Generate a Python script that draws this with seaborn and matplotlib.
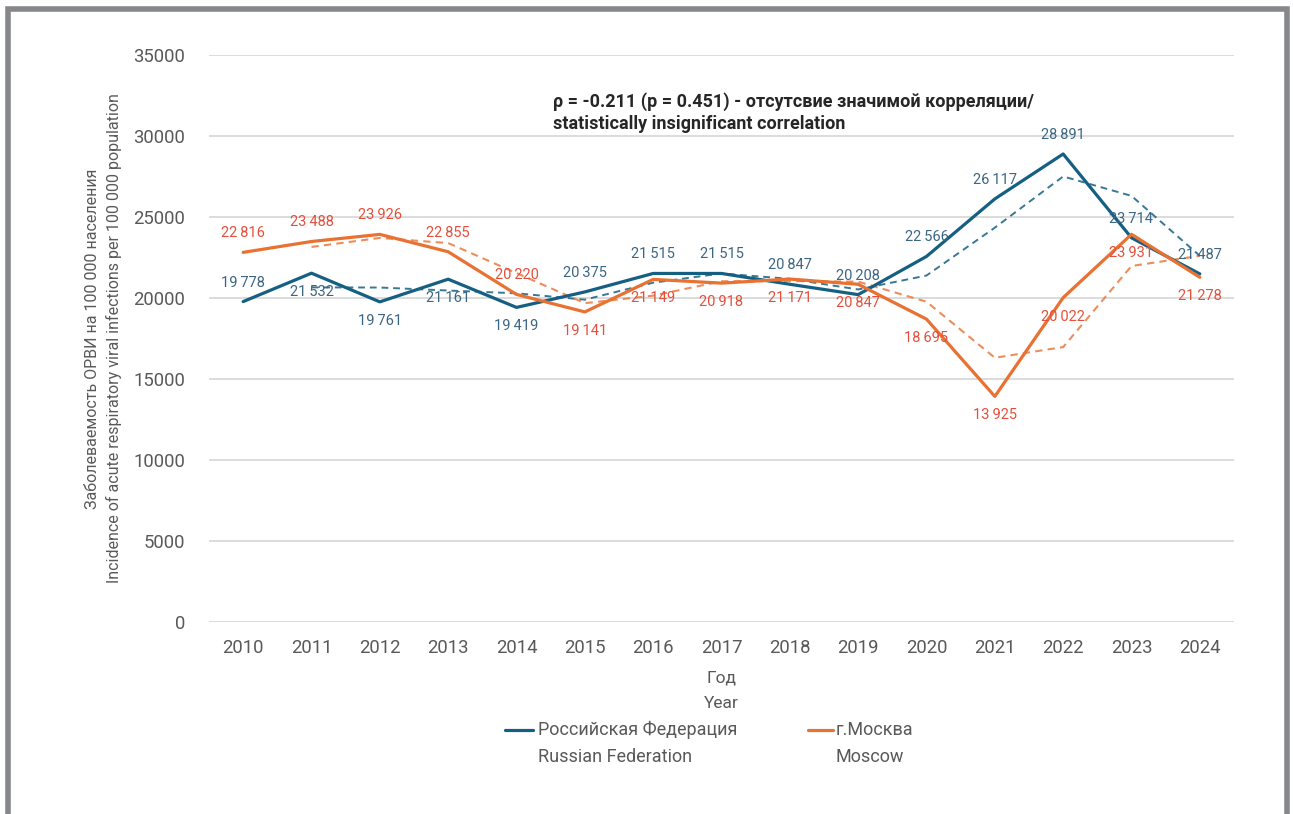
import matplotlib
matplotlib.use("Agg")
import numpy as np
import pandas as pd
import matplotlib.pyplot as plt
import seaborn as sns
from matplotlib.lines import Line2D
from matplotlib.patches import Rectangle

# ---- data -------------------------------------------------------------
years = [2010, 2011, 2012, 2013, 2014, 2015, 2016, 2017, 2018, 2019,
         2020, 2021, 2022, 2023, 2024]
russia = [19778, 21532, 19761, 21161, 19419, 20375, 21515, 21515, 20847,
          20208, 22566, 26117, 28891, 23714, 21487]
moscow = [22816, 23488, 23926, 22855, 20220, 19141, 21149, 20918, 21171,
          20847, 18695, 13925, 20022, 23931, 21278]
y_ticks = [0, 5000, 10000, 15000, 20000, 25000, 30000, 35000]

# which side of the point each value label sits on (+1 above, -1 below)
russia_label_side = [1, -1, -1, -1, -1, 1, 1, 1, 1, 1, 1, 1, 1, 1, 1]
moscow_label_side = [1, 1, 1, 1, 1, -1, -1, -1, -1, -1, -1, -1, -1, -1, -1]

ru_name = ("Российская Федерация", "Russian Federation")
msk_name = ("г.Москва", "Moscow")
y_title = ("Заболеваемость ОРВИ на 100 000 населения\n"
           "Incidence of acute respiratory viral infections per 100 000 population")
x_title = "Год\nYear"
note_lines = ("ρ = -0.211 (p = 0.451) - отсутсвие значимой корреляции/",
              "statistically insignificant correlation")

# ---- style ------------------------------------------------------------
RU_COLOR = "#156082"
MSK_COLOR = "#E97132"
RU_LABEL = "#3B6683"
MSK_LABEL = "#E5503C"
GREY = "#595959"

sns.set_theme(style="white")
plt.rcParams["font.family"] = ["Roboto", "DejaVu Sans"]

W, H = 1293, 814
fig = plt.figure(figsize=(W / 100, H / 100), dpi=100)
fig.patch.set_facecolor("white")
ax = fig.add_axes([209 / W, 1 - 622 / H, (1234 - 209) / W, (622 - 55) / H])

df = pd.DataFrame({"year": years, "ru": russia, "msk": moscow})
# two-period moving-average trendlines
df["ru_ma"] = df["ru"].rolling(2).mean()
df["msk_ma"] = df["msk"].rolling(2).mean()

sns.lineplot(data=df, x="year", y="ru_ma", ax=ax, color=RU_COLOR, lw=1.4,
             linestyle=(0, (3.5, 2.5)), alpha=0.85)
sns.lineplot(data=df, x="year", y="msk_ma", ax=ax, color=MSK_COLOR, lw=1.5,
             linestyle=(0, (3.5, 2.5)), alpha=0.8)
sns.lineplot(data=df, x="year", y="ru", ax=ax, color=RU_COLOR, lw=2.3)
sns.lineplot(data=df, x="year", y="msk", ax=ax, color=MSK_COLOR, lw=2.3)


def fmt(v):
    return f"{v:,}".replace(",", "\u2009")


for yr, v, s in zip(years, russia, russia_label_side):
    ax.annotate(fmt(v), (yr, v), xytext=(0, 13.7 * s), textcoords="offset points",
                ha="center", va="center", fontsize=10.5, color=RU_LABEL)
for yr, v, s in zip(years, moscow, moscow_label_side):
    ax.annotate(fmt(v), (yr, v), xytext=(0, 13.7 * s), textcoords="offset points",
                ha="center", va="center", fontsize=10.5, color=MSK_LABEL)

ax.set_xlim(years[0] - 0.5, years[-1] + 0.5)
ax.set_ylim(y_ticks[0], y_ticks[-1])
ax.set_xticks(years)
ax.set_xticklabels([str(y) for y in years])
ax.set_yticks(y_ticks)
ax.set_yticklabels([str(t) for t in y_ticks])
ax.tick_params(axis="both", length=0, labelsize=13.3, colors=GREY)
ax.tick_params(axis="x", pad=12)
ax.tick_params(axis="y", pad=17)
ax.yaxis.grid(True, color="#D9D9D9", lw=1.3)
ax.xaxis.grid(False)
ax.set_axisbelow(True)
for sp in ax.spines.values():
    sp.set_visible(False)

ax.set_xlabel(x_title, fontsize=12.5, color=GREY, labelpad=10, linespacing=1.9)
ax.set_ylabel(y_title, fontsize=11.5, color=GREY, labelpad=8, linespacing=1.5)

# correlation note
fig.text(553 / W, 1 - 102 / H, note_lines[0], ha="left", va="center",
         fontsize=13, fontweight="bold", color="#262626")
fig.text(553 / W, 1 - 124 / H, note_lines[1], ha="left", va="center",
         fontsize=13, fontweight="bold", color="#262626")

# legend
for x0, x1, tx, color, name in [(505, 533, 538, RU_COLOR, ru_name),
                                (808, 833, 836, MSK_COLOR, msk_name)]:
    fig.add_artist(Line2D([x0 / W, x1 / W], [1 - 730 / H] * 2,
                          transform=fig.transFigure, color=color, lw=2.3))
    fig.text(tx / W, 1 - 730 / H, name[0], ha="left", va="center",
             fontsize=13, color=GREY)
    fig.text(tx / W, 1 - 757 / H, name[1], ha="left", va="center",
             fontsize=13, color=GREY)

# outer frame (open at the bottom)
fig.add_artist(Rectangle((7.5 / W, -0.05), (1287 - 7.5) / W, 1.05 - 8.5 / H,
                         transform=fig.transFigure, fill=False,
                         edgecolor="#86878B", lw=4))

fig.savefig("out.png", dpi=100)
